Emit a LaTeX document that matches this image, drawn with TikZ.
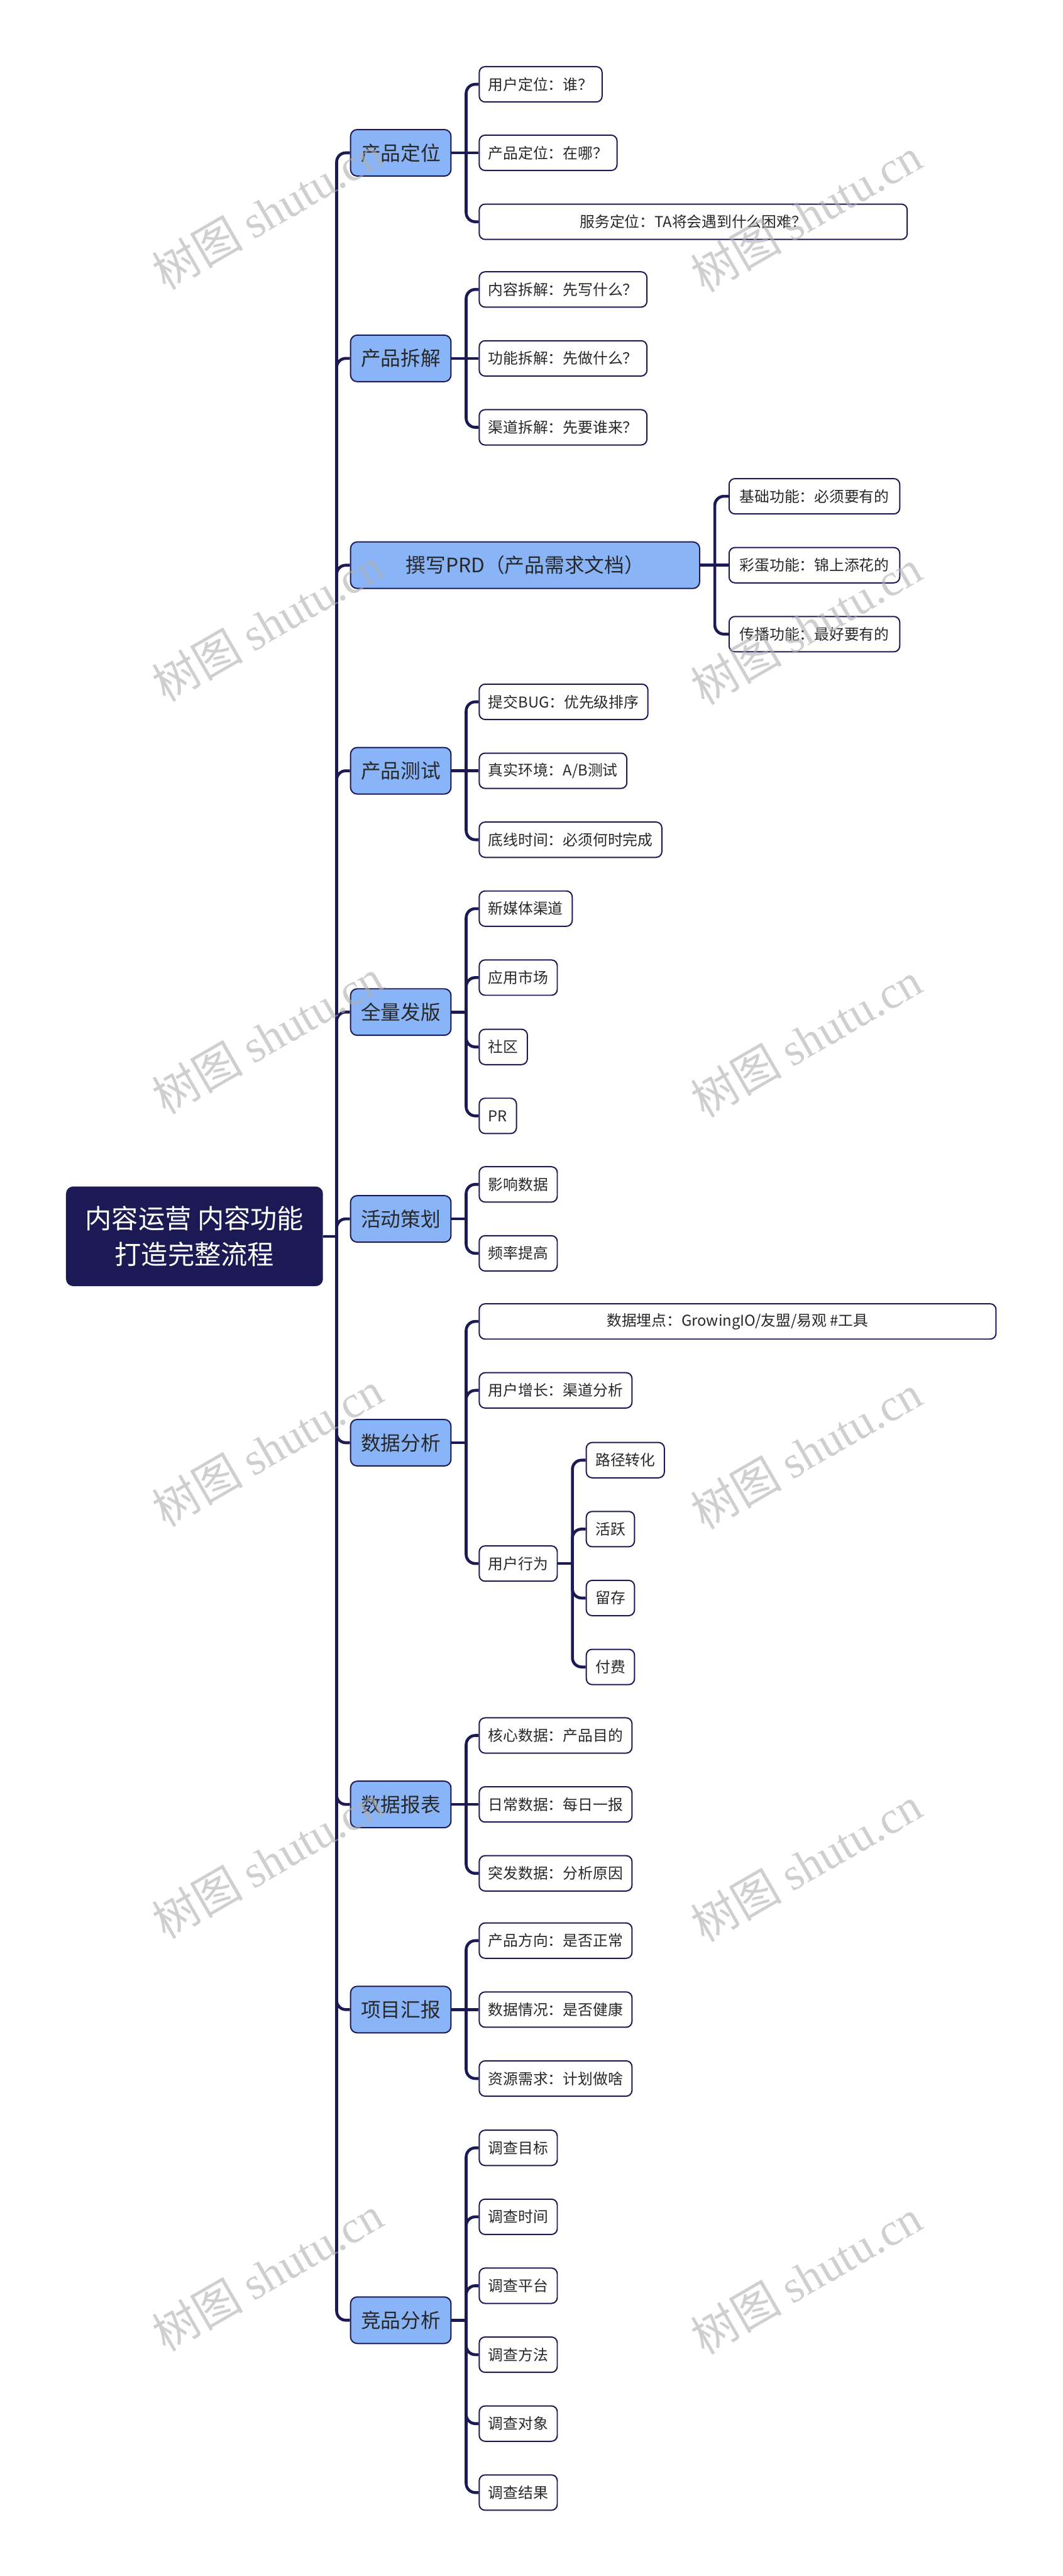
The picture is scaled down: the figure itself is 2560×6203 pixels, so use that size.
\documentclass[tikz,border=0pt]{standalone}
\usepackage{fontspec}
\setmainfont{Noto Sans CJK SC}
\newfontfamily\wmserif{Liberation Serif}
\definecolor{navy}{RGB}{27,26,85}
\definecolor{lvlone}{RGB}{138,180,248}
\definecolor{leaftext}{RGB}{40,40,40}
\definecolor{wmgray}{RGB}{175,175,175}
\pgfdeclarelayer{bg}
\pgfsetlayers{bg,main}
\begin{document}
\begin{tikzpicture}[x=1pt,y=-1pt,
  base/.style={draw=navy, line width=3pt, anchor=west, inner ysep=0pt},
  rootbox/.style={base, fill=navy, text=white, rounded corners=16pt, font=\fontsize{64}{87}\selectfont, align=center, minimum width=616pt, minimum height=237pt},
  topic/.style={base, fill=lvlone, text=leaftext, rounded corners=16pt, font=\fontsize{48}{56}\selectfont, inner xsep=25pt, minimum height=112pt},
  leaf/.style={base, fill=white, text=leaftext, rounded corners=14pt, font=\fontsize{36}{44}\selectfont, inner xsep=22pt, minimum height=85pt},
  conn/.style={draw=navy, line width=7pt, rounded corners=22pt},
  wm/.style={text=wmgray, opacity=0.6, rotate=30, font=\fontsize{110}{110}\selectfont}
]
\useasboundingbox (0,0) rectangle (2560,6203);

% root
\node[rootbox] (root) at (159,2977) {内容运营 内容功能\\打造完整流程};

% main topics
\node[topic] (t1) at (843,368) {产品定位};
\node[topic] (t2) at (843,863) {产品拆解};
\node[topic, minimum width=841pt] (t3) at (843,1361) {撰写PRD（产品需求文档）};
\node[topic] (t4) at (843,1856) {产品测试};
\node[topic] (t5) at (843,2437) {全量发版};
\node[topic] (t6) at (843,2935) {活动策划};
\node[topic] (t7) at (843,3474) {数据分析};
\node[topic] (t8) at (843,4345) {数据报表};
\node[topic] (t9) at (843,4839) {项目汇报};
\node[topic] (t10) at (843,5587) {竞品分析};

% leaves
\node[leaf] (a1) at (1153,203) {用户定位：谁？};
\node[leaf] (a2) at (1153,368) {产品定位：在哪？};
\node[leaf, minimum width=1031pt] (a3) at (1153,534) {服务定位：TA将会遇到什么困难？};

\node[leaf] (b1) at (1153,697) {内容拆解：先写什么？};
\node[leaf] (b2) at (1153,863) {功能拆解：先做什么？};
\node[leaf] (b3) at (1153,1029) {渠道拆解：先要谁来？};

\node[leaf, minimum width=411pt] (c1) at (1755,1195) {基础功能：必须要有的};
\node[leaf, minimum width=411pt] (c2) at (1755,1361) {彩蛋功能：锦上添花的};
\node[leaf, minimum width=411pt] (c3) at (1755,1527) {传播功能：最好要有的};

\node[leaf] (d1) at (1153,1690) {提交BUG：优先级排序};
\node[leaf] (d2) at (1153,1856) {真实环境：A/B测试};
\node[leaf] (d3) at (1153,2022) {底线时间：必须何时完成};

\node[leaf] (e1) at (1153,2188) {新媒体渠道};
\node[leaf] (e2) at (1153,2354) {应用市场};
\node[leaf] (e3) at (1153,2521) {社区};
\node[leaf] (e4) at (1153,2687) {PR};

\node[leaf] (f1) at (1153,2852) {影响数据};
\node[leaf] (f2) at (1153,3018) {频率提高};

\node[leaf, minimum width=1245pt] (g1) at (1153,3182) {数据埋点：GrowingIO/友盟/易观 \#工具};
\node[leaf] (g2) at (1153,3348) {用户增长：渠道分析};
\node[leaf] (g3) at (1153,3765) {用户行为};
\node[leaf] (u1) at (1411,3516) {路径转化};
\node[leaf] (u2) at (1411,3682) {活跃};
\node[leaf] (u3) at (1411,3848) {留存};
\node[leaf] (u4) at (1411,4014) {付费};

\node[leaf] (h1) at (1153,4179) {核心数据：产品目的};
\node[leaf] (h2) at (1153,4345) {日常数据：每日一报};
\node[leaf] (h3) at (1153,4511) {突发数据：分析原因};

\node[leaf] (i1) at (1153,4673) {产品方向：是否正常};
\node[leaf] (i2) at (1153,4839) {数据情况：是否健康};
\node[leaf] (i3) at (1153,5005) {资源需求：计划做啥};

\node[leaf] (k1) at (1153,5172) {调查目标};
\node[leaf] (k2) at (1153,5338) {调查时间};
\node[leaf] (k3) at (1153,5504) {调查平台};
\node[leaf] (k4) at (1153,5670) {调查方法};
\node[leaf] (k5) at (1153,5836) {调查对象};
\node[leaf] (k6) at (1153,6002) {调查结果};

% junction coordinates
\path (root.east) ++(33,0) coordinate (j0);
\path (t1.east) ++(35,0) coordinate (j1);
\path (t2.east) ++(35,0) coordinate (j2);
\path (t3.east) ++(35,0) coordinate (j3);
\path (t4.east) ++(35,0) coordinate (j4);
\path (t5.east) ++(35,0) coordinate (j5);
\path (t6.east) ++(35,0) coordinate (j6);
\path (t7.east) ++(35,0) coordinate (j7);
\path (g3.east) ++(35,0) coordinate (jg);
\path (t8.east) ++(35,0) coordinate (j8);
\path (t9.east) ++(35,0) coordinate (j9);
\path (t10.east) ++(35,0) coordinate (j10);

\begin{pgfonlayer}{bg}
% root to topics
\draw[conn] (root.east) -- (j0);
\foreach \t in {t1,t2,t3,t4,t5,t6,t7,t8,t9,t10}
  \draw[conn] (j0) |- (\t.west);
% topic 1
\draw[conn] (t1.east) -- (a2.west);
\draw[conn] (j1) |- (a1.west);
\draw[conn] (j1) |- (a3.west);
% topic 2
\draw[conn] (t2.east) -- (b2.west);
\draw[conn] (j2) |- (b1.west);
\draw[conn] (j2) |- (b3.west);
% topic 3
\draw[conn] (t3.east) -- (c2.west);
\draw[conn] (j3) |- (c1.west);
\draw[conn] (j3) |- (c3.west);
% topic 4
\draw[conn] (t4.east) -- (d2.west);
\draw[conn] (j4) |- (d1.west);
\draw[conn] (j4) |- (d3.west);
% topic 5
\draw[conn] (t5.east) -- (j5);
\foreach \c in {e1,e2,e3,e4} \draw[conn] (j5) |- (\c.west);
% topic 6
\draw[conn] (t6.east) -- (j6);
\foreach \c in {f1,f2} \draw[conn] (j6) |- (\c.west);
% topic 7
\draw[conn] (t7.east) -- (j7);
\foreach \c in {g1,g2,g3} \draw[conn] (j7) |- (\c.west);
\draw[conn] (g3.east) -- (jg);
\foreach \c in {u1,u2,u3,u4} \draw[conn] (jg) |- (\c.west);
% topic 8
\draw[conn] (t8.east) -- (h2.west);
\draw[conn] (j8) |- (h1.west);
\draw[conn] (j8) |- (h3.west);
% topic 9
\draw[conn] (t9.east) -- (i2.west);
\draw[conn] (j9) |- (i1.west);
\draw[conn] (j9) |- (i3.west);
% topic 10
\draw[conn] (t10.east) -- (j10);
\foreach \c in {k1,k2,k3,k4,k5,k6} \draw[conn] (j10) |- (\c.west);
\end{pgfonlayer}

% watermarks
\foreach \k in {0,...,5} {
  \node[wm] (wl\k) at (644,510+993*\k) {树图 {\wmserif shutu.cn}};
  \node[wm] (wr\k) at (1942,517+993*\k) {树图 {\wmserif shutu.cn}};
}
\end{tikzpicture}
\end{document}
